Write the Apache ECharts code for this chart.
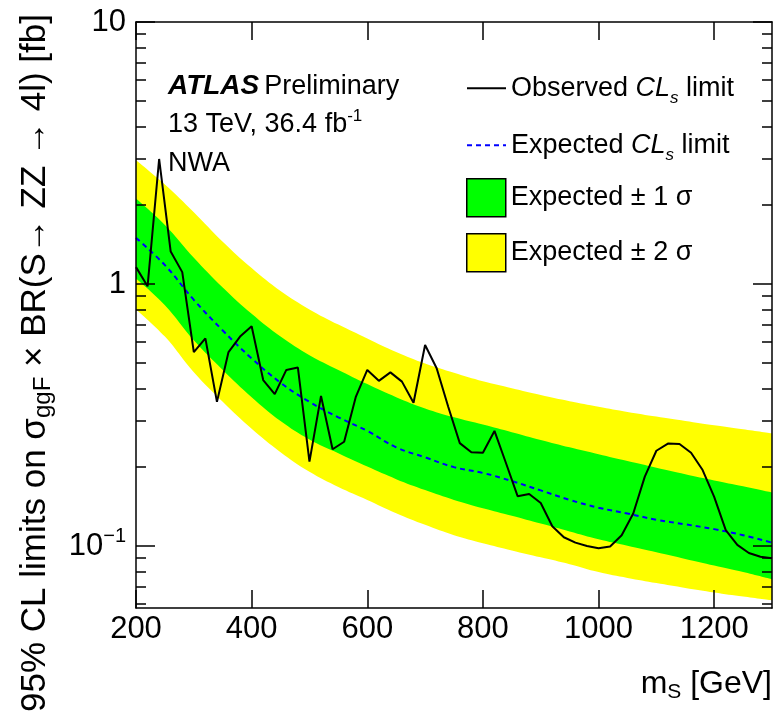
<!DOCTYPE html>
<html><head><meta charset="utf-8">
<script src="https://cdn.jsdelivr.net/npm/echarts@6/dist/echarts.min.js"></script>
<style>html,body{margin:0;padding:0;background:#fff}#c{width:780px;height:711px}</style>
</head><body><div id="c"></div>
<script>
// ---- data ----
const bandMass = [200,250,300,350,400,450,500,550,600,650,700,750,800,850,900,950,1000,1050,1100,1150,1200,1250,1300];
const expected = [1.50,1.18,0.87,0.665,0.52,0.42,0.355,0.31,0.275,0.238,0.218,0.200,0.19,0.177,0.163,0.150,0.140,0.133,0.126,0.121,0.116,0.110,0.103];
const plus2    = [2.97,2.40,1.88,1.45,1.15,0.94,0.80,0.70,0.62,0.55,0.497,0.458,0.425,0.40,0.377,0.357,0.34,0.325,0.312,0.300,0.289,0.279,0.269];
const plus1    = [2.12,1.68,1.26,0.97,0.77,0.63,0.535,0.47,0.415,0.37,0.335,0.31,0.291,0.272,0.254,0.238,0.224,0.211,0.199,0.188,0.178,0.169,0.160];
const minus1   = [1.05,0.83,0.61,0.47,0.37,0.30,0.255,0.226,0.201,0.180,0.1635,0.150,0.1395,0.1305,0.1218,0.1137,0.1061,0.1002,0.0946,0.0893,0.0843,0.0796,0.0747];
const minus2   = [0.80,0.63,0.46,0.355,0.28,0.228,0.192,0.168,0.150,0.1335,0.1205,0.110,0.1025,0.0962,0.0905,0.0852,0.0795,0.0755,0.0722,0.0692,0.0665,0.0641,0.062];
const obsMass  = [200,220,240,260,280,300,320,340,360,380,400,420,440,460,480,500,520,540,560,580,600,620,640,660,680,700,720,740,760,780,800,820,840,860,880,900,920,940,960,980,1000,1020,1040,1060,1080,1100,1120,1140,1160,1180,1200,1220,1240,1260,1280,1300];
const observed = [1.16,0.98,3.0,1.33,1.11,0.55,0.62,0.355,0.55,0.63,0.69,0.43,0.38,0.47,0.48,0.21,0.374,0.234,0.25,0.37,0.47,0.427,0.46,0.424,0.352,0.585,0.477,0.34,0.247,0.228,0.227,0.275,0.207,0.155,0.158,0.146,0.119,0.108,0.103,0.100,0.098,0.0995,0.110,0.133,0.184,0.231,0.246,0.245,0.227,0.195,0.154,0.115,0.101,0.094,0.091,0.0898];
const xTickValues = [200,400,600,800,1000,1200];
const yMajorTicks = [0.1,1,10];
const yMinorTicks = [0.06,0.07,0.08,0.09,0.2,0.3,0.4,0.5,0.6,0.7,0.8,0.9,2,3,4,5,6,7,8,9];

const FONT = 'Liberation Sans, Arial, Helvetica, sans-serif';
const pair = (xs, ys) => xs.map((x, i) => [x, ys[i]]);

const chart = echarts.init(document.getElementById('c'), null, {renderer: 'canvas'});

const xAxisBase = {
  type: 'value', min: 200, max: 1300, interval: 200,
  axisLine: {show: true, lineStyle: {color: '#000', width: 1.5}},
  axisTick: {show: true, inside: true, length: 18, customValues: xTickValues, lineStyle: {color: '#000', width: 1.5}},
  splitLine: {show: false}, z: 10
};
const yMajor = (pos, showLabel) => ({
  type: 'log', logBase: 10, min: 0.058, max: 10, position: pos,
  axisLine: {show: true, lineStyle: {color: '#000', width: 1.5}},
  axisTick: {show: true, inside: true, length: 19, customValues: yMajorTicks, lineStyle: {color: '#000', width: 1.5}},
  axisLabel: showLabel ? {
    customValues: yMajorTicks, margin: 10, color: '#000', fontFamily: FONT, fontSize: 31,
    formatter: v => { const e = Math.round(Math.log10(v)); return e < 0 ? '{b|10}{sup|\u2212' + (-e) + '}' : '{b|' + Math.pow(10, e) + '}'; },
    rich: {b: {fontSize: 31, fontFamily: FONT, color: '#000'}, sup: {fontSize: 20, fontFamily: FONT, color: '#000', padding: [0, 0, 20, 0]}}
  } : {show: false},
  splitLine: {show: false}, minorTick: {show: false}, z: 10
});
const yMinor = pos => ({
  type: 'log', logBase: 10, min: 0.058, max: 10, position: pos,
  axisLine: {show: false},
  axisTick: {show: true, inside: true, length: 10, customValues: yMinorTicks, lineStyle: {color: '#000', width: 1.5}},
  axisLabel: {show: false}, splitLine: {show: false}, z: 10
});

const yName = '{n|95% CL limits on \u03c3}{sub|ggF}{n| \u00d7 BR(S\u2192 ZZ \u2192 4l) [fb]}';
const yAxis0 = yMajor('left', true);
Object.assign(yAxis0, {
  name: yName, nameLocation: 'middle', nameRotate: 90, nameGap: 81,
  nameTextStyle: {color: '#000', fontFamily: FONT, fontSize: 35, padding: [0, 96, 0, 0],
    rich: {n: {fontSize: 35, fontFamily: FONT, color: '#000'}, sub: {fontSize: 24, fontFamily: FONT, color: '#000', padding: [16, 0, 0, 0]}}}
});

const legendRich = {
  n: {fontSize: 27, fontFamily: FONT, color: '#000'},
  i: {fontSize: 27, fontFamily: FONT, color: '#000', fontStyle: 'italic'},
  sub: {fontSize: 17, fontFamily: FONT, color: '#000', fontStyle: 'italic', padding: [20, 0, 0, 0]}
};
const legendText = {
  'Observed CLs limit': '{n|Observed }{i|CL}{sub|s}{n| limit}',
  'Expected CLs limit': '{n|Expected }{i|CL}{sub|s}{n| limit}',
  'Expected \u00b1 1 \u03c3': '{n|Expected \u00b1 1 \u03c3}',
  'Expected \u00b1 2 \u03c3': '{n|Expected \u00b1 2 \u03c3}'
};
const legendItems = [
  {item: {name: 'Observed CLs limit', itemStyle: {opacity: 0}}, top: 73},
  {item: {name: 'Expected CLs limit', itemStyle: {opacity: 0}}, top: 130},
  {item: {name: 'Expected \u00b1 1 \u03c3', icon: 'rect', itemStyle: {color: '#00ff00', borderColor: '#000', borderWidth: 1.5}}, top: 178},
  {item: {name: 'Expected \u00b1 2 \u03c3', icon: 'rect', itemStyle: {color: '#ffff00', borderColor: '#000', borderWidth: 1.5}}, top: 233}
];

const bandSeries = (name, ys, color) => ({
  name, type: 'line', data: pair(bandMass, ys), smooth: 0.4, symbol: 'none',
  lineStyle: {width: 0, opacity: 0}, areaStyle: {color, opacity: 1, origin: 'start'},
  color, itemStyle: {color}, silent: true, z: 1
});

const option = {
  animation: false,
  backgroundColor: '#fff',
  grid: {left: 136, right: 8, top: 22, bottom: 103, containLabel: false, outerBoundsMode: 'none'},
  title: {
    left: 168, top: 67, padding: 0,
    text: '{a|ATLAS} {b|Preliminary}\n{b|13 TeV, 36.4 fb}{sup|-1}\n{b|NWA}',
    textStyle: {fontWeight: 'normal', rich: {
      a: {fontSize: 28, fontFamily: FONT, fontWeight: 'bold', fontStyle: 'italic', color: '#000', lineHeight: 38.5},
      b: {fontSize: 27, fontFamily: FONT, fontWeight: 'normal', color: '#000', lineHeight: 38.5},
      sup: {fontSize: 17, fontFamily: FONT, fontWeight: 'normal', color: '#000', lineHeight: 38.5, padding: [0, 0, 16, 0]}
    }}
  },
  legend: legendItems.map(l => ({
    orient: 'vertical', left: 466, top: l.top, padding: 0, itemWidth: 39, itemHeight: 38,
    selectedMode: false,
    textStyle: {fontSize: 27, fontFamily: FONT, color: '#000', rich: legendRich},
    formatter: name => legendText[name],
    data: [l.item]
  })),
  xAxis: [
    Object.assign({}, xAxisBase, {position: 'bottom',
      axisLabel: {customValues: xTickValues, color: '#000', fontFamily: FONT, fontSize: 31, margin: 6, formatter: v => String(v)},
      name: '{m|m}{s|S}{m| [GeV]}', nameLocation: 'end', nameGap: 0,
      nameTextStyle: {align: 'right', verticalAlign: 'top', padding: [58, 0, 0, 0],
        rich: {m: {fontSize: 32, fontFamily: FONT, color: '#000'}, s: {fontSize: 21, fontFamily: FONT, color: '#000', padding: [16, 0, 0, 0]}}}
    }),
    Object.assign({}, xAxisBase, {position: 'top', axisLabel: {show: false}})
  ],
  yAxis: [yAxis0, yMinor('left'), yMajor('right', false), yMinor('right')],
  series: [
    bandSeries('Expected \u00b1 2 \u03c3', plus2, '#ffff00'),
    bandSeries('Expected \u00b1 1 \u03c3', plus1, '#00ff00'),
    bandSeries('-1 sigma edge', minus1, '#ffff00'),
    bandSeries('-2 sigma edge', minus2, '#ffffff'),
    {name: 'Expected CLs limit', type: 'line', data: pair(bandMass, expected), smooth: 0.4, symbol: 'none',
     color: '#0000ff', lineStyle: {color: '#0000ff', width: 2, type: [5, 4]}, z: 3},
    {name: 'Observed CLs limit', type: 'line', data: pair(obsMass, observed), symbol: 'none',
     color: '#000', lineStyle: {color: '#000', width: 2}, z: 4}
  ]
};
chart.setOption(option);
</script>
</body></html>
